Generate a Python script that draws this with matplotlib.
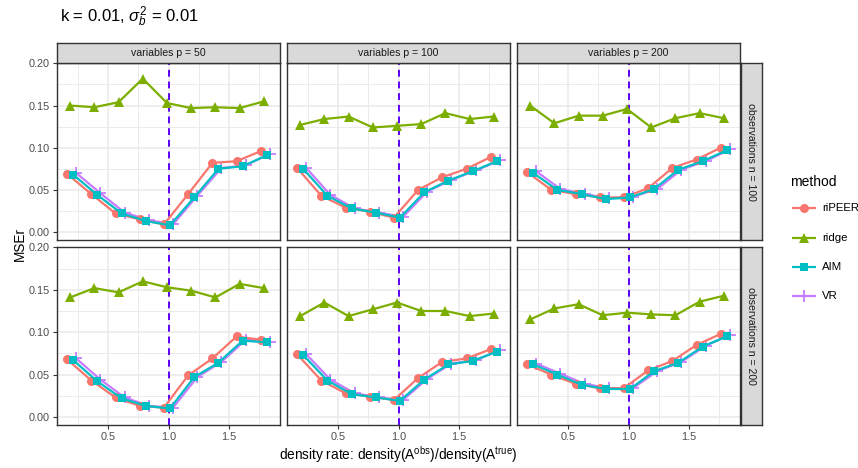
import matplotlib
matplotlib.use("Agg")
import matplotlib.pyplot as plt
from matplotlib.ticker import MultipleLocator
import numpy as np

plt.rcParams['font.family'] = ['Liberation Sans', 'DejaVu Sans']
plt.rcParams['mathtext.fontset'] = 'custom'
plt.rcParams['mathtext.rm'] = 'Liberation Sans'
plt.rcParams['mathtext.it'] = 'Liberation Sans:italic'
plt.rcParams['mathtext.bf'] = 'Liberation Sans:bold'

density = [0.2, 0.4, 0.6, 0.8, 1.0, 1.2, 1.4, 1.6, 1.8]
methods = ['riPEER', 'ridge', 'AIM', 'VR']
p_labels = ['variables p = 50', 'variables p = 100', 'variables p = 200']
n_labels = ['observations n = 100', 'observations n = 200']

# n = 100
ripeer_n100 = [
    [0.069, 0.045, 0.022, 0.015, 0.009, 0.045, 0.082, 0.084, 0.096],
    [0.076, 0.043, 0.029, 0.024, 0.017, 0.050, 0.065, 0.075, 0.089],
    [0.071, 0.050, 0.045, 0.041, 0.041, 0.052, 0.076, 0.086, 0.100],
]
ridge_n100 = [
    [0.150, 0.148, 0.154, 0.182, 0.153, 0.147, 0.148, 0.147, 0.155],
    [0.127, 0.134, 0.137, 0.124, 0.126, 0.128, 0.141, 0.134, 0.137],
    [0.150, 0.129, 0.138, 0.138, 0.146, 0.124, 0.135, 0.141, 0.135],
]
aim_n100 = [
    [0.068, 0.044, 0.022, 0.013, 0.008, 0.041, 0.075, 0.078, 0.091],
    [0.075, 0.043, 0.028, 0.023, 0.017, 0.047, 0.061, 0.072, 0.084],
    [0.070, 0.050, 0.045, 0.039, 0.041, 0.051, 0.074, 0.084, 0.097],
]
vr_n100 = [
    [0.070, 0.046, 0.023, 0.014, 0.009, 0.043, 0.076, 0.079, 0.093],
    [0.076, 0.044, 0.028, 0.023, 0.018, 0.048, 0.062, 0.073, 0.085],
    [0.072, 0.051, 0.045, 0.040, 0.042, 0.051, 0.074, 0.084, 0.098],
]

# n = 200
ripeer_n200 = [
    [0.068, 0.043, 0.023, 0.013, 0.011, 0.049, 0.069, 0.095, 0.091],
    [0.074, 0.043, 0.028, 0.024, 0.020, 0.046, 0.065, 0.069, 0.080],
    [0.062, 0.050, 0.039, 0.034, 0.034, 0.055, 0.066, 0.085, 0.098],
]
ridge_n200 = [
    [0.141, 0.152, 0.147, 0.160, 0.153, 0.149, 0.141, 0.157, 0.152],
    [0.119, 0.135, 0.119, 0.127, 0.135, 0.125, 0.125, 0.119, 0.122],
    [0.115, 0.128, 0.133, 0.120, 0.123, 0.121, 0.120, 0.136, 0.143],
]
aim_n200 = [
    [0.067, 0.042, 0.022, 0.013, 0.010, 0.047, 0.064, 0.090, 0.088],
    [0.073, 0.043, 0.027, 0.023, 0.019, 0.044, 0.062, 0.066, 0.077],
    [0.062, 0.050, 0.038, 0.033, 0.033, 0.054, 0.064, 0.083, 0.095],
]
vr_n200 = [
    [0.069, 0.044, 0.023, 0.013, 0.011, 0.047, 0.065, 0.091, 0.089],
    [0.074, 0.044, 0.028, 0.023, 0.020, 0.045, 0.063, 0.067, 0.079],
    [0.063, 0.051, 0.039, 0.034, 0.034, 0.054, 0.065, 0.084, 0.097],
]

results = [
    {'riPEER': ripeer_n100, 'ridge': ridge_n100, 'AIM': aim_n100, 'VR': vr_n100},
    {'riPEER': ripeer_n200, 'ridge': ridge_n200, 'AIM': aim_n200, 'VR': vr_n200},
]

colors = {'riPEER': '#F8766D', 'ridge': '#7CAE00', 'AIM': '#00BFC4', 'VR': '#C77CFF'}
markers = {'riPEER': 'o', 'ridge': '^', 'AIM': 's', 'VR': '+'}
msize = {'riPEER': 6.5, 'ridge': 7, 'AIM': 6, 'VR': 9}
dodge = {'riPEER': -0.0375, 'ridge': -0.0125, 'AIM': 0.0125, 'VR': 0.0375}
layer = {'riPEER': 4, 'ridge': 4, 'AIM': 4, 'VR': 3}

W, H = 858, 468
fig = plt.figure(figsize=(W / 100, H / 100), dpi=100)


def box(x0, y0, x1, y1):
    return [x0 / W, 1 - y1 / H, (x1 - x0) / W, (y1 - y0) / H]


col_x = [(57, 280), (287, 510), (517, 740)]
row_y = [(63, 240), (247, 425)]
border = '#333333'
txt = '#4D4D4D'

for r in range(2):
    for c in range(3):
        x0, x1 = col_x[c]
        y0, y1 = row_y[r]
        ax = fig.add_axes(box(x0, y0, x1, y1))
        ax.set_xlim(0.079, 1.921)
        ax.set_ylim(-0.0095, 0.2005)
        ax.xaxis.set_major_locator(MultipleLocator(0.5))
        ax.xaxis.set_minor_locator(MultipleLocator(0.25))
        ax.yaxis.set_major_locator(MultipleLocator(0.05))
        ax.yaxis.set_minor_locator(MultipleLocator(0.025))
        ax.grid(which='major', color='#EBEBEB', lw=1.2)
        ax.grid(which='minor', color='#EBEBEB', lw=0.7)
        ax.set_axisbelow(True)
        for s in ax.spines.values():
            s.set_color(border)
            s.set_linewidth(1.0)
        ax.tick_params(which='minor', length=0)
        ax.tick_params(which='major', length=3, width=0.8, color=border,
                       labelsize=7.8, labelcolor=txt, pad=2)
        if c == 0:
            ax.set_yticks([0, 0.05, 0.1, 0.15, 0.2])
            ax.set_yticklabels(['0.00', '0.05', '0.10', '0.15', '0.20'])
        else:
            ax.tick_params(axis='y', which='major', length=0, labelleft=False)
        if r == 1:
            ax.set_xticks([0.5, 1.0, 1.5])
            ax.set_xticklabels(['0.5', '1.0', '1.5'])
        else:
            ax.tick_params(axis='x', which='major', length=0, labelbottom=False)

        ax.axvline(1.0, color='#5E00F5', lw=1.4, ls=(0, (3.5, 2.5)), zorder=2)
        for m in methods:
            xs = np.array(density) + dodge[m]
            ax.plot(xs, results[r][m][c], color=colors[m], lw=1.6,
                    marker=markers[m], ms=msize[m], mew=1.3 if m == 'VR' else 0,
                    zorder=layer[m])

# column strips
for c in range(3):
    x0, x1 = col_x[c]
    sa = fig.add_axes(box(x0, 43, x1, 63))
    sa.set_facecolor('#D9D9D9')
    sa.set_xticks([])
    sa.set_yticks([])
    for s in sa.spines.values():
        s.set_color(border)
        s.set_linewidth(1.0)
    sa.text(0.5, 0.5, p_labels[c], ha='center', va='center', fontsize=7.6,
            color='#1A1A1A', transform=sa.transAxes)

# row strips
for r in range(2):
    y0, y1 = row_y[r]
    sa = fig.add_axes(box(741, y0, 762, y1))
    sa.set_facecolor('#D9D9D9')
    sa.set_xticks([])
    sa.set_yticks([])
    for s in sa.spines.values():
        s.set_color(border)
        s.set_linewidth(1.0)
    sa.text(0.5, 0.5, n_labels[r], ha='center', va='center', fontsize=7.6,
            color='#1A1A1A', rotation=-90, transform=sa.transAxes)

fig.text(60 / W, 1 - 17 / H, r'k = 0.01, $\sigma_b^2$ = 0.01', fontsize=12,
         ha='left', va='center', color='black')
fig.text(20 / W, 1 - 244 / H, 'MSEr', rotation=90, fontsize=9.8,
         ha='center', va='center')
fig.text(398 / W, 1 - 455 / H,
         r'density rate: density(A$^{\mathrm{obs}}$)/density(A$^{\mathrm{true}}$)',
         fontsize=9.8, ha='center', va='center')

# legend
fig.text(790 / W, 1 - 182 / H, 'method', fontsize=10, ha='left', va='center')
key_y = [208, 238, 267, 296]
for m, ky in zip(methods, key_y):
    la = fig.add_axes(box(792, ky - 8, 816, ky + 8))
    la.set_xlim(0, 1)
    la.set_ylim(0, 1)
    la.axis('off')
    la.plot([0.05, 0.95], [0.5, 0.5], color=colors[m], lw=1.6)
    la.plot([0.5], [0.5], color=colors[m], marker=markers[m], ms=msize[m],
            mew=1.3 if m == 'VR' else 0)
    fig.text(822 / W, 1 - ky / H, m, fontsize=8.2, ha='left', va='center')

fig.savefig('out.png', dpi=100)
